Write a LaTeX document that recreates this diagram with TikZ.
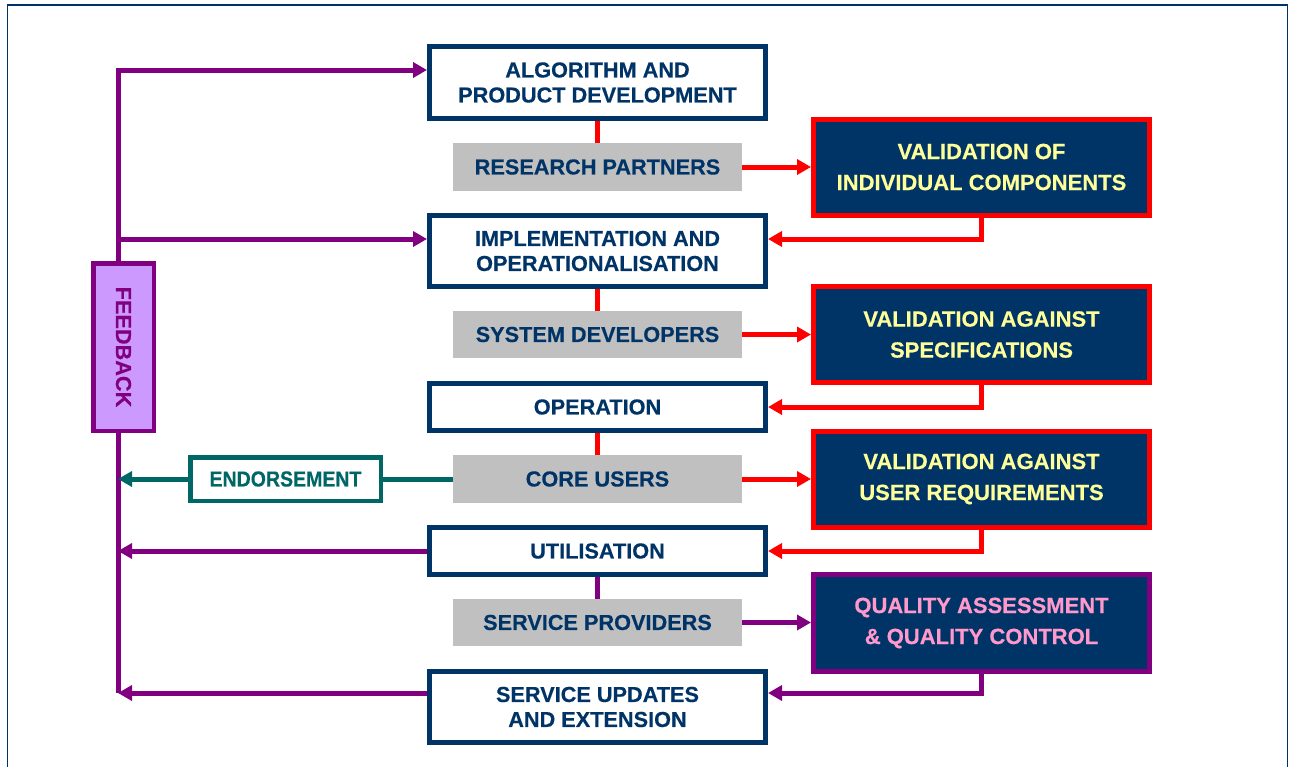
\documentclass[tikz,border=0pt]{standalone}
\usepackage{fontspec}
\usepackage{graphicx}
\setmainfont{Liberation Sans}[BoldFeatures={FakeBold=0.4}]
\usetikzlibrary{arrows.meta,calc,backgrounds}
\definecolor{navy}{HTML}{003366}
\definecolor{vred}{HTML}{FF0000}
\definecolor{plum}{HTML}{800080}
\definecolor{tealgreen}{HTML}{006666}
\definecolor{greybox}{HTML}{C0C0C0}
\definecolor{lilac}{HTML}{CC99FF}
\definecolor{paleyellow}{HTML}{FFFF99}
\definecolor{softpink}{HTML}{FF99CC}

\begin{document}
\begin{tikzpicture}[x=1pt,y=-1pt,
  txt/.style={font=\fontsize{21.7}{25}\selectfont\bfseries},
  stage/.style={txt, draw=navy, fill=white, line width=5pt, text=navy,
    minimum width=336pt, inner sep=0pt, align=center},
  actor/.style={txt, fill=greybox, minimum width=289pt, minimum height=47.5pt,
    inner sep=0pt, text=navy},
  check/.style={font=\fontsize{22}{31}\selectfont\bfseries, draw=vred, fill=navy,
    line width=5pt, text=paleyellow, minimum width=336pt, minimum height=96pt,
    inner sep=0pt, align=center},
  link/.style={line width=5pt},
  tip/.style={-{Triangle[length=14pt,width=15pt]}},
]
\useasboundingbox (0,0) rectangle (1289,766);
% outer frame
\draw[navy, line width=1.5pt] (7.5,5) rectangle (1287.5,800);

% life-cycle stages
\node[stage, minimum height=72pt] (alg)  at (597.5,82.5) {ALGORITHM AND\\PRODUCT DEVELOPMENT};
\node[actor] (rp)   at (597.5,167)   {RESEARCH PARTNERS};
\node[stage, minimum height=71pt] (impl) at (597.5,251)  {IMPLEMENTATION AND\\OPERATIONALISATION};
\node[actor] (sd)   at (597.5,334.5) {SYSTEM DEVELOPERS};
\node[stage, minimum height=47pt] (oper) at (597.5,407)  {OPERATION};
\node[actor] (cu)   at (597.5,479)   {CORE USERS};
\node[stage, minimum height=47pt] (util) at (597.5,551)  {UTILISATION};
\node[actor] (spv)  at (597.5,622.5) {SERVICE PROVIDERS};
\node[stage, minimum height=71pt] (upd)  at (597.5,707)  {SERVICE UPDATES\\AND EXTENSION};

% validation boxes
\node[check] (vc) at (981.5,167)   {VALIDATION OF\\INDIVIDUAL COMPONENTS};
\node[check] (vs) at (981.5,334.5) {VALIDATION AGAINST\\SPECIFICATIONS};
\node[check] (vu) at (981.5,479)   {VALIDATION AGAINST\\USER REQUIREMENTS};
\node[check, draw=plum, text=softpink, minimum height=97pt] (qa) at (981.5,623)
  {QUALITY ASSESSMENT\\\& QUALITY CONTROL};

% feedback and endorsement
\node[txt, draw=plum, fill=lilac, line width=4.5pt, text=plum, minimum width=60.5pt,
  minimum height=167.5pt, inner sep=0pt] (fb) at (123.5,347) {\rotatebox{-90}{FEEDBACK}};
\node[txt, draw=tealgreen, fill=white, line width=4.5pt, text=tealgreen,
  minimum width=190.5pt, minimum height=43.5pt, inner sep=0pt] (endo) at (285.5,479)
  {\scalebox{0.9}[1]{ENDORSEMENT}};

\coordinate (trunk) at (118,0);
\coordinate (algIn)  at ($(alg.west)+(0,-12.5)$);
\coordinate (implIn) at ($(impl.west)+(0,-12)$);
\coordinate (implRet) at ($(impl.east)+(0,-12)$);
\coordinate (updOut) at ($(upd.west)+(0,-14)$);
\coordinate (updRet) at ($(upd.east)+(0,-14)$);

\begin{scope}[on background layer]
  % stage to actor links
  \draw[link, vred] (alg) -- (rp);
  \draw[link, vred] (impl) -- (sd);
  \draw[link, vred] (oper) -- (cu);
  \draw[link, plum] (util) -- (spv);
  % actors to validation
  \draw[link, vred, tip] (rp.east) -- (rp.east -| vc.west);
  \draw[link, vred, tip] (sd.east) -- (sd.east -| vs.west);
  \draw[link, vred, tip] (cu.east) -- (cu.east -| vu.west);
  \draw[link, plum, tip] (spv.east) -- (spv.east -| qa.west);
  % validation back to next stage
  \draw[link, vred, tip] (vc.south) |- (implRet);
  \draw[link, vred, tip] (vs.south) |- (oper.east);
  \draw[link, vred, tip] (vu.south) |- (util.east);
  \draw[link, plum, tip] (qa.south) |- (updRet);
  % feedback trunk
  \draw[link, plum, tip] (fb.north -| trunk) |- (algIn);
  \draw[link, plum, tip] (implIn -| trunk) -- (implIn);
  \draw[link, plum] (fb.south -| trunk) -- (updOut -| trunk);
  \draw[link, plum, tip] (util.west) -- (util.west -| trunk);
  \draw[link, plum, tip] (updOut) -- (updOut -| trunk);
  % endorsement path
  \draw[link, tealgreen] (cu.west) -- (endo.east);
  \draw[link, tealgreen, tip] (endo.west) -- (endo.west -| trunk);
\end{scope}
\end{tikzpicture}
\end{document}
